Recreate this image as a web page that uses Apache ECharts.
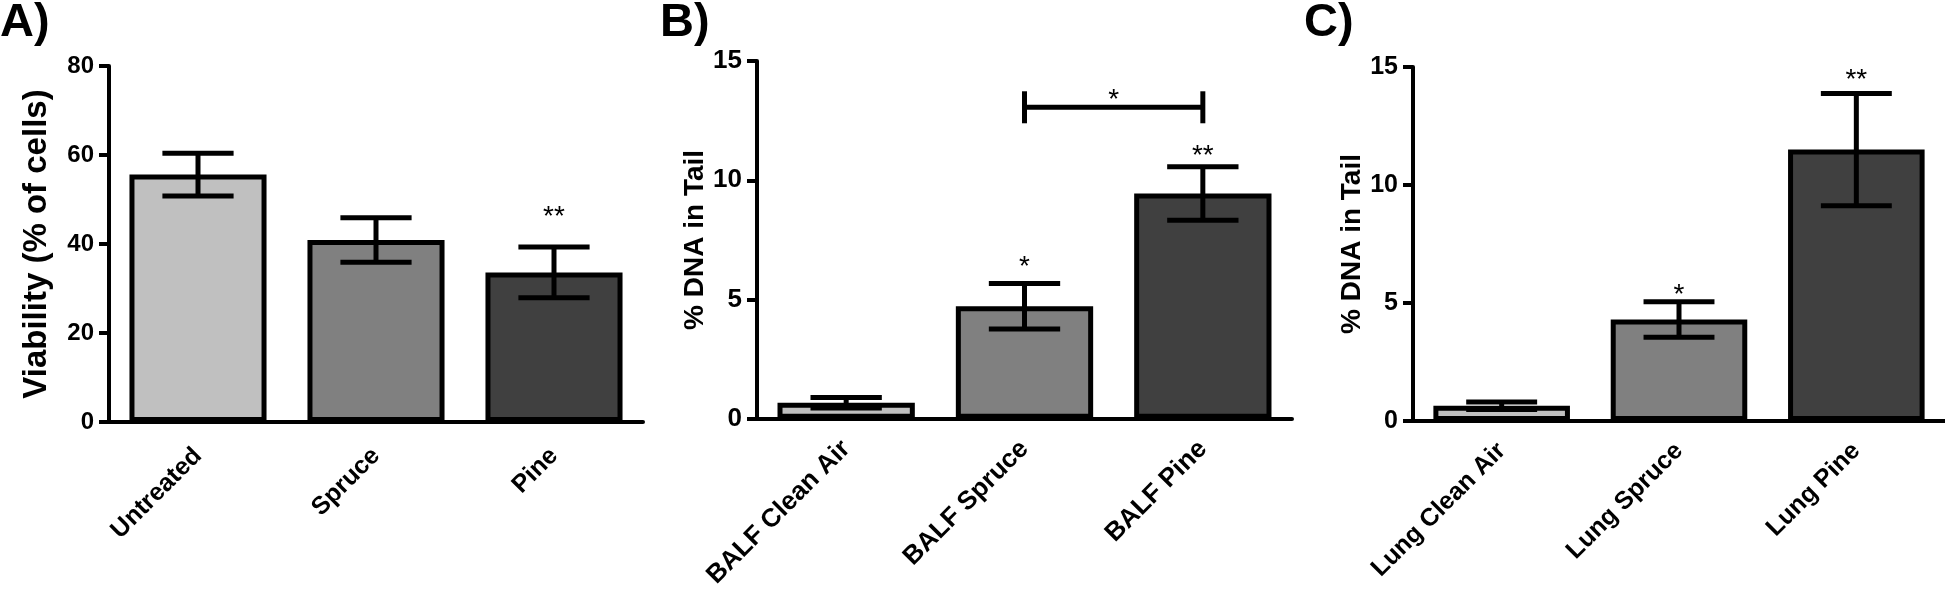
<!DOCTYPE html>
<html>
<head>
<meta charset="utf-8">
<script src="https://cdn.jsdelivr.net/npm/echarts@6/dist/echarts.min.js"></script>
<style>
  html, body { margin: 0; padding: 0; background: #fff; }
  #chart { width: 1945px; height: 591px; }
</style>
</head>
<body>
<div id="chart"></div>
<script>
// Panel A - cell viability
const catsA = ["Untreated", "Spruce", "Pine"];
const meanA = [55.6, 40.9, 33.6];
const errA = [4.8, 5.0, 5.7];
const sigA = ["", "", "**"];
const sigLevelA = [null, null, 47.3];
const yAxisA = { min: 0, max: 80, step: 20 };

// Panel B - BALF comet assay
const catsB = ["BALF Clean Air", "BALF Spruce", "BALF Pine"];
const meanB = [0.68, 4.72, 9.45];
const errB = [0.22, 0.95, 1.12];
const sigB = ["", "*", "**"];
const sigLevelB = [null, 6.59, 11.26];
const bracketB = [1, 2, 13.06]; // from category, to category, level
const bracketSigB = "*";
const yAxisB = { min: 0, max: 15, step: 5 };

// Panel C - lung comet assay
const catsC = ["Lung Clean Air", "Lung Spruce", "Lung Pine"];
const meanC = [0.65, 4.3, 11.5];
const errC = [0.16, 0.75, 2.38];
const sigC = ["", "*", "**"];
const sigLevelC = [null, 5.59, 14.68];
const yAxisC = { min: 0, max: 15, step: 5 };

const fills = ["#c0c0c0", "#808080", "#404040"];
const font = "'Liberation Sans', Arial, Helvetica, sans-serif";

const chart = echarts.init(document.getElementById("chart"), null, { renderer: "canvas" });

const axisLineStyle = { color: "#000", width: 4 };

function makeX(idx, cats, labelSize, margin) {
  return {
    type: "category",
    gridIndex: idx,
    data: cats,
    axisLine: { lineStyle: axisLineStyle },
    axisTick: { alignWithLabel: true, length: 10, lineStyle: { color: "#000", width: 4 } },
    axisLabel: {
      interval: 0,
      rotate: 45,
      margin: margin,
      color: "#000",
      fontWeight: "bold",
      fontSize: labelSize,
      fontFamily: font,
    },
  };
}

function makeY(idx, range, name, labelSize, nameSize, nameGap) {
  return {
    type: "value",
    gridIndex: idx,
    min: range.min,
    max: range.max,
    interval: range.step,
    name: name,
    nameLocation: "middle",
    nameGap: nameGap,
    nameTextStyle: { color: "#000", fontWeight: "bold", fontSize: nameSize, fontFamily: font },
    axisLine: { show: true, lineStyle: axisLineStyle },
    axisTick: { show: true, length: 10, lineStyle: { color: "#000", width: 4 } },
    splitLine: { show: false },
    axisLabel: { color: "#000", fontWeight: "bold", fontSize: labelSize, fontFamily: font, margin: 15 },
  };
}

function barSeries(idx, means) {
  return {
    type: "bar",
    xAxisIndex: idx,
    yAxisIndex: idx,
    barWidth: "77%",
    silent: true,
    itemStyle: { borderColor: "#000", borderWidth: 5 },
    data: means.map((v, i) => ({ value: v, itemStyle: { color: fills[i] } })),
  };
}

function errorSeries(idx, means, errs) {
  return {
    type: "custom",
    xAxisIndex: idx,
    yAxisIndex: idx,
    z: 5,
    silent: true,
    data: means.map((m, i) => [i, m - errs[i], m + errs[i]]),
    renderItem: (params, api) => {
      const lo = api.coord([api.value(0), api.value(1)]);
      const hi = api.coord([api.value(0), api.value(2)]);
      const half = api.size([1, 0])[0] * 0.2;
      const style = { stroke: "#000", lineWidth: 5 };
      return {
        type: "group",
        children: [
          { type: "line", shape: { x1: hi[0], y1: hi[1], x2: lo[0], y2: lo[1] }, style },
          { type: "line", shape: { x1: hi[0] - half, y1: hi[1], x2: hi[0] + half, y2: hi[1] }, style },
          { type: "line", shape: { x1: lo[0] - half, y1: lo[1], x2: lo[0] + half, y2: lo[1] }, style },
        ],
      };
    },
  };
}

function sigSeries(idx, marks, levels) {
  const pts = [];
  marks.forEach((m, i) => { if (m) pts.push([i, levels[i], m]); });
  return {
    type: "custom",
    xAxisIndex: idx,
    yAxisIndex: idx,
    z: 6,
    silent: true,
    data: pts,
    renderItem: (params, api) => {
      const p = api.coord([api.value(0), api.value(1)]);
      return {
        type: "text",
        x: p[0],
        y: p[1] + 6,
        style: {
          text: pts[params.dataIndex][2],
          fill: "#000",
          font: "normal 28px " + font,
          textAlign: "center",
          textVerticalAlign: "middle",
        },
      };
    },
  };
}

function bracketSeries(idx, br, mark) {
  return {
    type: "custom",
    xAxisIndex: idx,
    yAxisIndex: idx,
    z: 6,
    silent: true,
    data: [br],
    renderItem: (params, api) => {
      const a = api.coord([api.value(0), api.value(2)]);
      const b = api.coord([api.value(1), api.value(2)]);
      const style = { stroke: "#000", lineWidth: 5 };
      return {
        type: "group",
        children: [
          { type: "line", shape: { x1: a[0], y1: a[1], x2: b[0], y2: b[1] }, style },
          { type: "line", shape: { x1: a[0], y1: a[1] - 16, x2: a[0], y2: a[1] + 16 }, style },
          { type: "line", shape: { x1: b[0], y1: b[1] - 16, x2: b[0], y2: b[1] + 16 }, style },
          {
            type: "text",
            x: (a[0] + b[0]) / 2,
            y: a[1] - 7,
            style: {
              text: mark,
              fill: "#000",
              font: "normal 28px " + font,
              textAlign: "center",
              textVerticalAlign: "middle",
            },
          },
        ],
      };
    },
  };
}

const panelTitle = (text, left) => ({
  text: text,
  left: left,
  top: 0,
  padding: 0,
  textStyle: { color: "#000", fontWeight: "bold", fontSize: 47, fontFamily: font },
});

const option = {
  animation: false,
  backgroundColor: "#fff",
  title: [panelTitle("A)", 0), panelTitle("B)", 660), panelTitle("C)", 1304)],
  grid: [
    { left: 109, top: 66, width: 534, height: 356 },
    { left: 757, top: 61, width: 535, height: 358 },
    { left: 1413, top: 67, width: 532, height: 354 },
  ],
  xAxis: [makeX(0, catsA, 25, 30), makeX(1, catsB, 26, 26), makeX(2, catsC, 25, 26)],
  yAxis: [
    makeY(0, yAxisA, "Viability (% of cells)", 24, 33, 56),
    makeY(1, yAxisB, "% DNA in Tail", 26, 28, 48),
    makeY(2, yAxisC, "% DNA in Tail", 25, 28, 44),
  ],
  series: [
    barSeries(0, meanA), errorSeries(0, meanA, errA), sigSeries(0, sigA, sigLevelA),
    barSeries(1, meanB), errorSeries(1, meanB, errB), sigSeries(1, sigB, sigLevelB),
    bracketSeries(1, bracketB, bracketSigB),
    barSeries(2, meanC), errorSeries(2, meanC, errC), sigSeries(2, sigC, sigLevelC),
  ],
};

chart.setOption(option);
</script>
</body>
</html>
